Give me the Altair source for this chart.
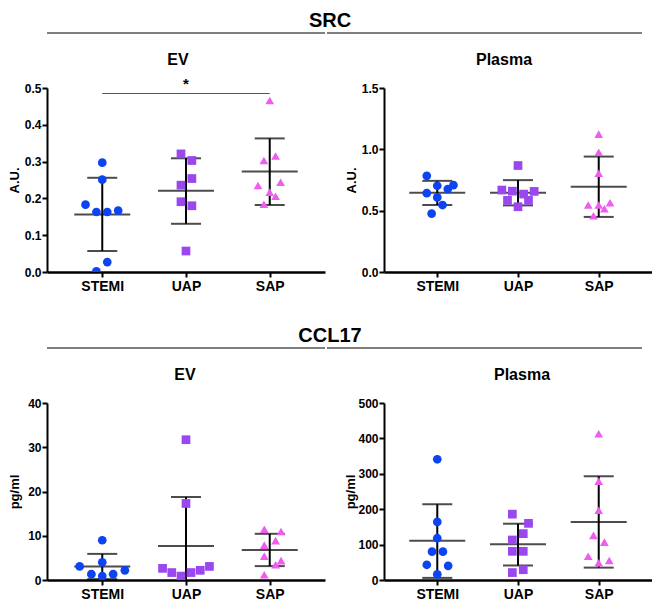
import altair as alt
import pandas as pd

FONT = "Liberation Sans"

groups = ["STEMI", "UAP", "SAP"]
colors = ["#0d44f2", "#9b47ef", "#ef5cef"]
shapes = ["circle", "square", "triangle-up"]
sections = ["SRC", "CCL17"]
samples = ["EV", "Plasma"]
units = ["A.U.", "pg/ml"]

# ---- SRC / EV ----
src_ev_stemi = [0.297, 0.251, 0.183, 0.163, 0.163, 0.167, 0.027, 0.002]
src_ev_stemi_jit = [0, 0, -0.20, -0.07, 0.06, 0.19, 0.06, -0.07]
src_ev_uap = [0.321, 0.303, 0.236, 0.254, 0.191, 0.180, 0.057]
src_ev_uap_jit = [-0.06, 0.07, -0.06, 0.07, -0.06, 0.07, 0.0]
src_ev_sap = [0.466, 0.303, 0.315, 0.235, 0.244, 0.217, 0.206, 0.184]
src_ev_sap_jit = [0, -0.07, 0.07, -0.14, 0.13, 0, 0.07, -0.07]
src_ev_mean = [0.156, 0.221, 0.273]
src_ev_low = [0.057, 0.131, 0.182]
src_ev_high = [0.256, 0.309, 0.363]
src_ev_ticks = [0, 0.1, 0.2, 0.3, 0.4, 0.5]

# ---- SRC / Plasma ----
src_pl_stemi = [0.784, 0.703, 0.643, 0.676, 0.708, 0.608, 0.546, 0.476]
src_pl_stemi_jit = [-0.13, 0, -0.13, 0.13, 0.2, 0, 0.065, -0.07]
src_pl_uap = [0.868, 0.668, 0.659, 0.635, 0.657, 0.584, 0.584, 0.532]
src_pl_uap_jit = [0, -0.2, -0.07, 0.07, 0.2, -0.13, 0.13, 0]
src_pl_sap = [1.124, 0.976, 0.805, 0.546, 0.546, 0.565, 0.516, 0.459]
src_pl_sap_jit = [0, 0, 0, -0.13, 0, 0.14, 0.07, -0.065]
src_pl_mean = [0.646, 0.646, 0.695]
src_pl_low = [0.546, 0.543, 0.449]
src_pl_high = [0.743, 0.749, 0.941]
src_pl_ticks = [0, 0.5, 1.0, 1.5]

# ---- CCL17 / EV ----
ccl_ev_stemi = [8.98, 4.0, 3.07, 2.19, 1.31, 1.31, 0.88]
ccl_ev_stemi_jit = [0, 0, -0.27, 0.27, -0.13, 0.13, 0]
ccl_ev_uap = [31.7, 17.3, 2.63, 1.68, 0.88, 1.68, 2.19, 3.07]
ccl_ev_uap_jit = [0, 0, -0.28, -0.17, -0.06, 0.06, 0.17, 0.28]
ccl_ev_sap = [11.46, 10.95, 8.9, 7.88, 5.4, 4.38, 3.43, 1.17]
ccl_ev_sap_jit = [-0.065, 0.135, 0.07, -0.065, -0.065, 0.135, 0.07, -0.065]
ccl_ev_mean = [3.07, 7.66, 6.79]
ccl_ev_low = [0.2, -3.44, 3.14]
ccl_ev_high = [5.9, 18.76, 10.44]
ccl_ev_ticks = [0, 10, 20, 30, 40]

# ---- CCL17 / Plasma ----
ccl_pl_stemi = [341, 164, 118, 80, 80, 43, 40, 16]
ccl_pl_stemi_jit = [0, 0, 0, -0.065, 0.07, -0.13, 0.135, 0]
ccl_pl_uap = [186, 160, 131, 113, 81, 81, 29, 21]
ccl_pl_uap_jit = [-0.07, 0.13, 0.065, -0.07, -0.07, 0.065, 0.065, -0.07]
ccl_pl_sap = [413, 279, 197, 126, 107, 67, 49, 55]
ccl_pl_sap_jit = [0, 0, 0, -0.065, 0.07, -0.13, 0, 0.13]
ccl_pl_mean = [111, 101, 164]
ccl_pl_low = [6, 41, 35]
ccl_pl_high = [214, 159, 293]
ccl_pl_ticks = [0, 100, 200, 300, 400, 500]

# ---- significance annotation (SRC / EV) ----
sig_pair = ["STEMI", "SAP"]
sig_y = 0.485
sig_label = "*"
sig_label_y = 0.512

label_expr = "[" + ",".join("'%s'" % g for g in groups) + "][datum.value - 1]"
XDOM = [0.34, 3.66]
LINE_Y = -55
SUB_Y = -23


def panel(vals, jits, mean, low, high, ticks, fmt, unit, title, width, height,
          line_x0, line_x1, title_x, sig=False):
    rows = []
    for gi, (v, j) in enumerate(zip(vals, jits)):
        for a, b in zip(v, j):
            rows.append({"group": groups[gi], "value": a, "xpos": gi + 1 + b})
    pts = pd.DataFrame(rows)
    stats = pd.DataFrame({"group": groups, "xpos": [1, 2, 3], "mean": mean, "low": low, "high": high})

    xscale = alt.Scale(domain=XDOM, nice=False, zero=False)
    yscale = alt.Scale(domain=[ticks[0], ticks[-1]], nice=False, zero=True)
    xaxis = alt.Axis(values=[1, 2, 3], labelExpr=label_expr, title=None, grid=False)
    yaxis = alt.Axis(values=ticks, format=fmt, title=unit, grid=False)

    def X(f):
        return alt.X(f, scale=xscale, axis=xaxis)

    def Y(f):
        return alt.Y(f, scale=yscale, axis=yaxis)

    points = alt.Chart(pts).mark_point(filled=True, opacity=1, size=76, clip=True).encode(
        x=X("xpos:Q"),
        y=Y("value:Q"),
        color=alt.Color("group:N", scale=alt.Scale(domain=groups, range=colors), legend=None),
        shape=alt.Shape("group:N", scale=alt.Scale(domain=groups, range=shapes), legend=None),
    )
    vline = alt.Chart(stats).mark_rule(color="black", strokeWidth=2, clip=True).encode(
        x=X("xpos:Q"), y=Y("low:Q"), y2="high:Q",
    )
    meanline = alt.Chart(stats).mark_tick(orient="horizontal", size=56, thickness=2,
                                           color="black", clip=True).encode(
        x=X("xpos:Q"), y=Y("mean:Q"),
    )
    caps = alt.Chart(stats).transform_fold(["low", "high"], as_=["k", "v"]).mark_tick(
        orient="horizontal", size=30, thickness=2, color="black", clip=True).encode(
        x=X("xpos:Q"), y=Y("v:Q"),
    )
    hdr = pd.DataFrame({"lab": [title]})
    sep = alt.Chart(hdr).mark_rule(color="#555555", strokeWidth=1.3).encode(
        x=alt.value(line_x0), x2=alt.value(line_x1), y=alt.value(LINE_Y))
    sub = alt.Chart(hdr).mark_text(font=FONT, fontSize=16, fontWeight="bold", color="black",
                                   baseline="alphabetic", align="center").encode(
        x=alt.value(title_x), y=alt.value(SUB_Y), text="lab:N")
    layers = [vline, meanline, caps, points]
    if sig:
        sdf = pd.DataFrame({"x1": [groups.index(sig_pair[0]) + 1],
                            "x2": [groups.index(sig_pair[1]) + 1],
                            "xm": [(groups.index(sig_pair[0]) + groups.index(sig_pair[1])) / 2 + 1],
                            "y": [sig_y], "ly": [sig_label_y], "lab": [sig_label]})
        layers.append(alt.Chart(sdf).mark_rule(color="#555555", strokeWidth=1).encode(
            x=X("x1:Q"), x2="x2:Q", y=Y("y:Q")))
        layers.append(alt.Chart(sdf).mark_text(font=FONT, fontSize=15, fontWeight="bold",
                                               color="black", baseline="middle").encode(
            x=X("xm:Q"), y=Y("ly:Q"), text="lab:N"))
    layers += [sep, sub]
    return alt.layer(*layers).properties(width=width, height=height)


p1 = panel([src_ev_stemi, src_ev_uap, src_ev_sap], [src_ev_stemi_jit, src_ev_uap_jit, src_ev_sap_jit],
           src_ev_mean, src_ev_low, src_ev_high, src_ev_ticks, ".1f", units[0], samples[0],
           278, 184, 0, 278, 131, sig=True)
p2 = panel([src_pl_stemi, src_pl_uap, src_pl_sap], [src_pl_stemi_jit, src_pl_uap_jit, src_pl_sap_jit],
           src_pl_mean, src_pl_low, src_pl_high, src_pl_ticks, ".1f", units[0], samples[1],
           268, 184, -57, 258, 120)
p3 = panel([ccl_ev_stemi, ccl_ev_uap, ccl_ev_sap], [ccl_ev_stemi_jit, ccl_ev_uap_jit, ccl_ev_sap_jit],
           ccl_ev_mean, ccl_ev_low, ccl_ev_high, ccl_ev_ticks, "d", units[1], samples[0],
           278, 177, 0, 278, 138)
p4 = panel([ccl_pl_stemi, ccl_pl_uap, ccl_pl_sap], [ccl_pl_stemi_jit, ccl_pl_uap_jit, ccl_pl_sap_jit],
           ccl_pl_mean, ccl_pl_low, ccl_pl_high, ccl_pl_ticks, "d", units[1], samples[1],
           268, 177, -57, 258, 138)


def row_title(i):
    return alt.TitleParams(sections[i], font=FONT, fontSize=20, fontWeight="bold", color="black",
                           anchor="middle", frame="bounds", offset=1)


row1 = alt.hconcat(p1, p2, spacing=0).properties(title=row_title(0))
row2 = alt.hconcat(p3, p4, spacing=0).properties(title=row_title(1))

chart = alt.vconcat(row1, row2, spacing=33).properties(
    padding={"left": 0, "top": 3, "right": 0, "bottom": 0}
).configure_view(strokeWidth=0).configure_axis(
    domainColor="black", tickColor="black", tickWidth=2, tickSize=5,
    labelFont=FONT, labelFontWeight="bold", labelColor="black",
    titleFont=FONT, titleFontWeight="bold", titleColor="black",
).configure_axisX(
    domainWidth=2.5, labelFontSize=14, labelPadding=2,
).configure_axisY(
    domainWidth=2, labelFontSize=12, labelPadding=1, minExtent=26, titleFontSize=13, titlePadding=0,
)

chart.save("out.html", embed_options={"renderer": "svg", "actions": False})
